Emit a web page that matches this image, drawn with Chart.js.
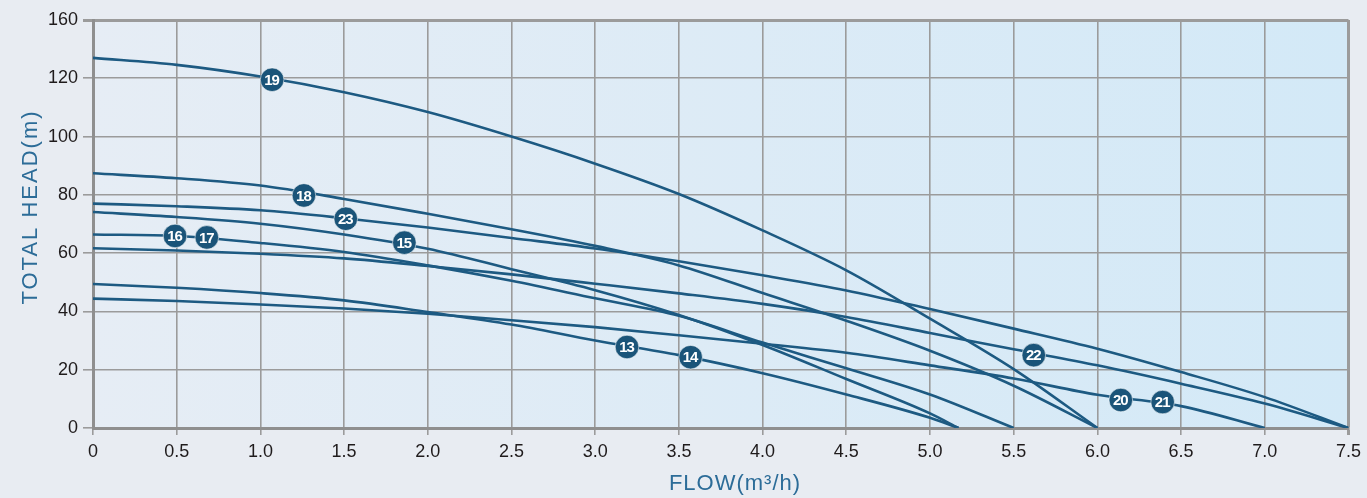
<!DOCTYPE html>
<html>
<head>
<meta charset="utf-8">
<script src="https://cdn.jsdelivr.net/npm/chart.js@4.4.1/dist/chart.umd.min.js"></script>
<style>
  html, body { margin: 0; padding: 0; background: #e8ecf2; }
  #wrap { width: 1367px; height: 498px; }
</style>
</head>
<body>
<div id="wrap"><canvas id="pumpChart" width="1367" height="498"></canvas></div>
<script>
var flowSteps = [0, 0.5, 1.0, 1.5, 2.0, 2.5, 3.0, 3.5, 4.0, 4.5, 5.0, 5.5, 6.0, 6.5, 7.0, 7.5];

// heads (m, in the plotted scale) at each flow step, curve stops at its cut-off flow
var head19   = [127.0, 124.6, 120.6, 115.2, 108.4, 100.0, 90.7, 80.3, 67.8, 54.1, 37.5, 20.2];
var head18   = [87.4, 85.7, 83.2, 78.6, 73.5, 68.2, 62.5, 55.8, 46.3, 36.8, 26.5, 14.5];
var head23   = [77.0, 76.1, 74.7, 72.0, 68.8, 65.2, 61.6, 57.2, 52.4, 47.2, 40.8, 34.1, 27.2, 19.2, 10.6];
var head15   = [74.1, 72.4, 70.1, 66.4, 61.5, 54.5, 47.3, 38.8, 28.5, 16.8, 5.0];
var head1617 = [66.4, 65.9, 63.5, 60.4, 55.8, 50.5, 44.5, 38.5, 29.3, 20.5, 11.5];
var head22   = [61.7, 60.9, 59.8, 58.2, 55.6, 52.7, 49.5, 46.2, 42.6, 38.1, 32.6, 27.0, 21.5, 15.2, 8.4];
var head1314 = [49.4, 48.1, 46.3, 43.8, 39.8, 35.5, 30.0, 25.0, 18.8, 11.5, 3.5];
var head2021 = [44.4, 43.6, 42.4, 41.0, 39.2, 37.0, 34.6, 31.8, 28.9, 25.8, 21.5, 17.0, 11.4, 7.5];

var curveHeads = [head19, head18, head23, head15, head1617, head22, head1314, head2021];
var cutoffFlow = [6.0, 6.0, 7.5, 5.17, 5.5, 7.5, 5.17, 7.0];

// model badges
var badgeText = ['19', '18', '23', '15', '16', '17', '13', '14', '22', '20', '21'];
var badgeFlow = [1.07, 1.26, 1.51, 1.86, 0.49, 0.68, 3.19, 3.57, 5.62, 6.14, 6.39];
var badgeHead = [119.5, 79.8, 71.8, 63.6, 65.9, 65.4, 27.8, 24.3, 25.0, 9.6, 8.9];

// y ticks: the top line is labelled 160 in the original
var yTickValues = [0, 20, 40, 60, 80, 100, 120, 140];
var yTickLabels = ['0', '20', '40', '60', '80', '100', '120', '160'];

var xTitle = 'FLOW(m³/h)';
var yTitle = 'TOTAL HEAD(m)';

var lineColor = '#1d5a82';
var gridColor = '#9b9b9b';
var titleColor = '#2c6c98';

var datasets = [];
for (var i = 0; i < curveHeads.length; i++) {
  var pts = [];
  for (var j = 0; j < curveHeads[i].length; j++) {
    pts.push({ x: flowSteps[j], y: curveHeads[i][j] });
  }
  pts.push({ x: cutoffFlow[i], y: 0 });
  datasets.push({
    data: pts,
    showLine: true,
    borderColor: lineColor,
    borderWidth: 2.6,
    pointRadius: 0,
    cubicInterpolationMode: 'monotone',
    fill: false,
    order: 1
  });
}

var badgePts = [];
for (var k = 0; k < badgeText.length; k++) {
  badgePts.push({ x: badgeFlow[k], y: badgeHead[k] });
}
datasets.push({
  data: badgePts,
  showLine: false,
  pointRadius: 11.8,
  pointBackgroundColor: '#1a5479',
  pointBorderColor: 'rgba(255,255,255,0.55)',
  pointBorderWidth: 1,
  order: -1
});

var bgPlugin = {
  id: 'bgPlugin',
  beforeDraw: function (chart) {
    var c = chart.ctx, a = chart.chartArea;
    c.save();
    c.fillStyle = '#e8ecf2';
    c.fillRect(0, 0, chart.width, chart.height);
    var g = c.createLinearGradient(a.left, 0, a.right, 0);
    g.addColorStop(0, '#e6edf5');
    g.addColorStop(1, '#d3e9f7');
    c.fillStyle = g;
    c.fillRect(a.left, a.top, a.right - a.left, a.bottom - a.top);
    c.restore();
  }
};

var badgeLabels = {
  id: 'badgeLabels',
  afterDatasetsDraw: function (chart) {
    var meta = chart.getDatasetMeta(datasets.length - 1);
    var c = chart.ctx;
    c.save();
    c.fillStyle = '#ffffff';
    c.font = 'bold 15px "Liberation Sans", Arial, sans-serif';
    c.letterSpacing = '-1px';
    c.textAlign = 'center';
    c.textBaseline = 'middle';
    meta.data.forEach(function (p, idx) {
      c.fillText(badgeText[idx], p.x - 0.5, p.y + 1);
    });
    c.restore();
  }
};

// axis titles drawn by hand so they can be letter-spaced like the original
var axisTitles = {
  id: 'axisTitles',
  afterDraw: function (chart) {
    var c = chart.ctx;
    c.save();
    c.fillStyle = titleColor;
    c.font = '22px "Liberation Sans", Arial, sans-serif';
    c.textAlign = 'center';
    c.textBaseline = 'middle';
    c.letterSpacing = '1px';
    c.fillText(xTitle, 735, 484);
    c.letterSpacing = '2px';
    c.translate(31, 207);
    c.rotate(-Math.PI / 2);
    c.fillText(yTitle, 0, 0);
    c.restore();
  }
};

var tickFont = { family: '"Liberation Sans", Arial, sans-serif', size: 18 };

var myChart = new Chart(document.getElementById('pumpChart'), {
  type: 'scatter',
  data: { datasets: datasets },
  options: {
    responsive: false,
    animation: false,
    layout: { padding: { top: 20, right: 16, left: 0, bottom: 0 } },
    plugins: {
      legend: { display: false },
      tooltip: { enabled: false }
    },
    scales: {
      x: {
        type: 'linear',
        min: 0,
        max: 7.5,
        afterFit: function (s) { s.height = 70; },
        ticks: {
          stepSize: 0.5,
          padding: 6,
          color: '#1f1b1c',
          font: tickFont,
          callback: function (v) { return v === 0 ? '0' : v.toFixed(1); }
        },
        grid: {
          color: gridColor,
          tickColor: gridColor,
          tickLength: 7,
          lineWidth: function (ctx) { return ctx.index === 15 ? 3 : 1.6; }
        },
        border: { color: '#8f8f8f', width: 3 }
      },
      y: {
        type: 'linear',
        min: 0,
        max: 140,
        afterFit: function (s) { s.width = 93; },
        afterBuildTicks: function (s) {
          s.ticks = yTickValues.map(function (v) { return { value: v }; });
        },
        ticks: {
          padding: 5,
          color: '#1f1b1c',
          font: tickFont,
          callback: function (v) { return yTickLabels[yTickValues.indexOf(v)]; }
        },
        grid: {
          color: gridColor,
          tickColor: gridColor,
          tickLength: 10,
          lineWidth: function (ctx) { return ctx.index === 7 ? 3 : 1.6; }
        },
        border: { color: '#8f8f8f', width: 3 }
      }
    }
  },
  plugins: [bgPlugin, badgeLabels, axisTitles]
});
</script>
</body>
</html>
